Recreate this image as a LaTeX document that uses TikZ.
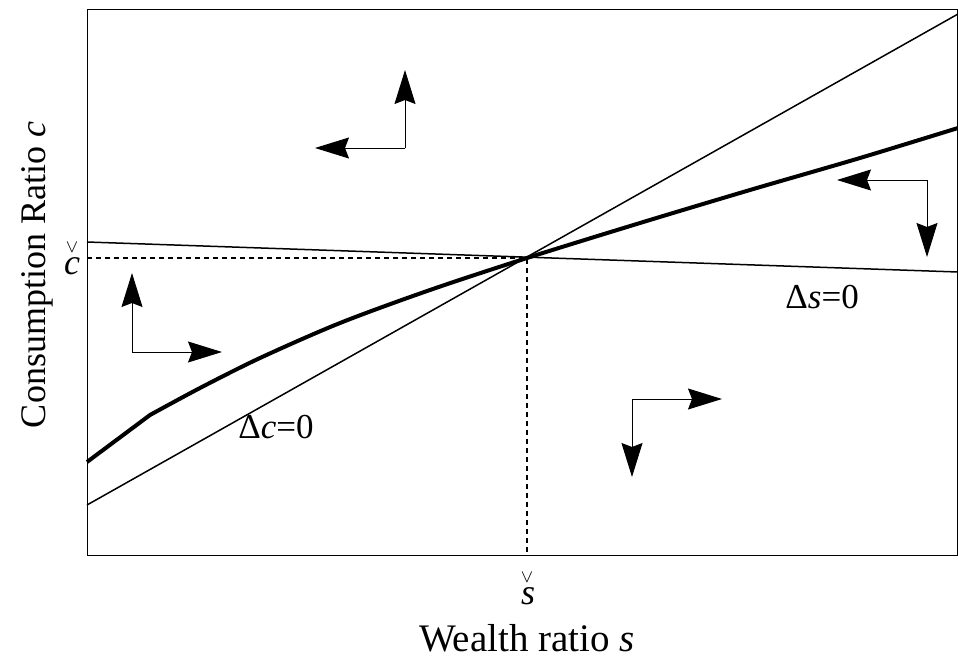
\documentclass[tikz,border=0pt]{standalone}
\usepackage{fontspec}
\setmainfont{Liberation Serif}
\usetikzlibrary{arrows.meta}
\tikzset{
  thinline/.style={line width=0.75pt},
  motion/.style={line width=0.5pt, -{Stealth[length=17pt, width=10.5pt, inset=2pt]}},
  lbl/.style={font=\fontsize{18}{20}\selectfont, inner sep=0pt},
  chkmark/.style={font=\fontsize{9.5}{9.5}\selectfont, inner sep=0pt},
}

\begin{document}
\begin{tikzpicture}[x=0.5pt, y=-0.5pt]
\useasboundingbox (0,0) rectangle (958,658);
% frame
\draw[line width=0.5pt] (87,10) rectangle (957.5,555);
% steady state and its projections
\coordinate (ss) at (527,258);
\coordinate (cax) at (87,258);
\coordinate (sax) at (527,555);
\draw[thinline, dash pattern=on 2.5pt off 2pt] (cax) -- (ss) -- (sax);
% loci
\coordinate (dcL) at (87,505);
\coordinate (dcR) at (958,14);
\draw[thinline] (dcL) -- (dcR);
\coordinate (dsL) at (87,242);
\coordinate (dsR) at (958,272);
\draw[thinline] (dsL) -- (dsR);
% saddle path
\draw[line width=2pt, line join=round] (87,462) -- (150,415)
  -- plot[smooth] coordinates {(150,415) (200,388) (260,358) (340,323) (430,290)
     (527,258) (640,223) (750,190) (860,158) (958,128)};
% labels
\node[lbl, anchor=base] (chat) at (72,274) {\textit{c}};
\node[chkmark] (chatv) at (72,247) {$\vee$};
\node[lbl, anchor=base] (shat) at (528,604) {\textit{s}};
\node[chkmark] (shatv) at (527,577) {$\vee$};
\node[lbl, font=\fontsize{19.5}{22}\selectfont, anchor=base] (xlab) at (527,651) {Wealth ratio \textit{s}};
\node[lbl, anchor=base, rotate=90] (ylab) at (46,275) {Consumption Ratio \textit{c}};
\node[lbl, font=\fontsize{17.5}{20}\selectfont, anchor=base west] (dclab) at (238,438) {Δ\textit{c}=0};
\node[lbl, font=\fontsize{17.5}{20}\selectfont, anchor=base west] (dslab) at (785,308) {Δ\textit{s}=0};
% direction arrows
\coordinate (nw) at (405,148);
\coordinate (nwU) at (405,70);
\coordinate (nwL) at (315,148);
\draw[motion] (nw) -- (nwU);
\draw[motion] (nw) -- (nwL);
\coordinate (ne) at (927,180);
\coordinate (neL) at (837,180);
\coordinate (neD) at (927,257);
\draw[motion] (ne) -- (neL);
\draw[motion] (ne) -- (neD);
\coordinate (sw) at (132,352);
\coordinate (swU) at (132,273);
\coordinate (swR) at (222,352);
\draw[motion] (sw) -- (swU);
\draw[motion] (sw) -- (swR);
\coordinate (se) at (632,399);
\coordinate (seR) at (722,399);
\coordinate (seD) at (632,477);
\draw[motion] (se) -- (seR);
\draw[motion] (se) -- (seD);
\end{tikzpicture}
\end{document}
